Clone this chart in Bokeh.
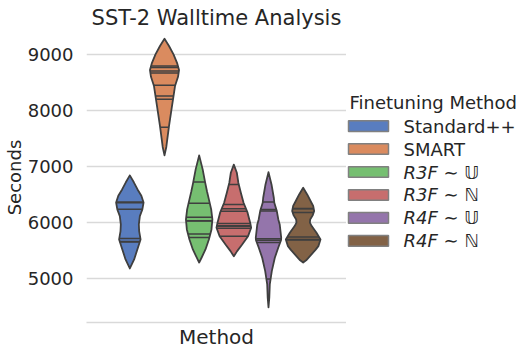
import numpy as np
from bokeh.plotting import figure
from bokeh.layouts import row
from bokeh.models import FixedTicker, Range1d
from bokeh.embed import file_html
from bokeh.resources import INLINE
from bokeh.core.properties import value

# ---------------- data ----------------
methods = ["Standard++", "SMART", "R3F \u223c \U0001D54C", "R3F \u223c \u2115",
           "R4F \u223c \U0001D54C", "R4F \u223c \u2115"]
italic = [False, False, True, True, True, True]
colors = ["#597dbf", "#da8b5f", "#76bf71", "#c76e6e", "#9475ab", "#826246"]

# violin outlines: seconds and half-width density (relative, 1 = widest)
std_y = [5184, 5345, 5523, 5701, 5850, 5969, 6117, 6236, 6360, 6480, 6593, 6720, 6843]
std_d = [0, 4.3, 7.5, 10.7, 9.3, 9.0, 10.0, 12.5, 13.7, 11.5, 7.7, 4.0, 0]
smart_y = [7200, 7350, 7490, 7720, 7960, 8200, 8435, 8600, 8720, 8850, 9000, 9150, 9280]
smart_d = [0, 1.8, 2.8, 4.5, 6.5, 8.5, 10.5, 13.5, 14.5, 12.5, 9.0, 4.5, 0]
r3fu_y = [5290, 5380, 5523, 5701, 5880, 6058, 6237, 6415, 6560, 6713, 6950, 7200]
r3fu_d = [0, 2.5, 6.3, 9.7, 12.3, 13.2, 12.0, 9.7, 7.8, 6.0, 3.5, 0]
r3fn_y = [5400, 5493, 5612, 5760, 5910, 6000, 6178, 6356, 6534, 6713, 6890, 7035]
r3fn_d = [0, 3.3, 8.3, 14.2, 17.3, 16.3, 13.7, 9.7, 7.0, 4.5, 3.0, 0]
r4fu_y = [4490, 4662, 4899, 5137, 5375, 5554, 5690, 5732, 5969, 6058, 6207, 6356, 6445, 6682, 6900]
r4fu_d = [0, 0.8, 1.3, 3.3, 6.3, 9.7, 12.5, 12.7, 11.2, 9.8, 8.3, 5.8, 5.3, 3.0, 0]
r4fn_y = [5290, 5330, 5434, 5520, 5582, 5701, 5821, 5940, 6000, 6058, 6130, 6207, 6300, 6356, 6504, 6623]
r4fn_d = [0, 3.0, 8.3, 12.5, 15.2, 17.3, 13.3, 8.5, 6.7, 7.0, 9.5, 11.0, 10.0, 8.3, 4.0, 0]

# individual runs (inner sticks), seconds
std_runs = [6370, 6355, 6240, 5720, 5665, 5655]
smart_runs = [8795, 8765, 8705, 8670, 8450, 8260, 8200, 7700]
r3fu_runs = [6725, 6345, 6095, 6035, 6030, 5797, 5735]
r3fn_runs = [6680, 6325, 6250, 6205, 5985, 5945, 5935, 5900, 5760]
r4fu_runs = [6370, 6235, 6210, 5715, 5685, 5645, 4995]
r4fn_runs = [6255, 6250, 6180, 5745, 5700, 5690]

yticks = [5000, 6000, 7000, 8000, 9000]

profiles = [(std_y, std_d, std_runs), (smart_y, smart_d, smart_runs),
            (r3fu_y, r3fu_d, r3fu_runs), (r3fn_y, r3fn_d, r3fn_runs),
            (r4fu_y, r4fu_d, r4fu_runs), (r4fn_y, r4fn_d, r4fn_runs)]

TEXT = "#262626"
EDGE = "#3f3f3f"
GRID = "#d9d9d9"
FONT = "DejaVu Sans"

# ---------------- main plot ----------------
p = figure(frame_width=260, frame_height=290,
           x_range=Range1d(-0.5, 0.5), y_range=Range1d(4221, 9390),
           output_backend="svg", toolbar_location=None,
           title="SST-2 Walltime Analysis",
           min_border_left=84, min_border_right=0, min_border_top=0, min_border_bottom=0)
p.outline_line_color = None
p.background_fill_color = "white"
p.title.text_font = FONT
p.title.text_font_size = "21px"
p.title.text_font_style = "normal"
p.title.text_color = TEXT
p.title.align = "center"
p.title.standoff = 6

p.xgrid.visible = False
p.ygrid.grid_line_color = GRID
p.ygrid.grid_line_width = 1.6
p.yaxis.ticker = FixedTicker(ticks=yticks)
p.xaxis.ticker = FixedTicker(ticks=[])
p.yaxis.axis_line_color = None
p.yaxis.major_tick_line_color = None
p.yaxis.minor_tick_line_color = None
p.yaxis.major_tick_out = 0
p.yaxis.major_label_text_font = FONT
p.yaxis.major_label_text_font_size = "18px"
p.yaxis.major_label_text_color = TEXT
p.yaxis.major_label_standoff = 13
p.yaxis.axis_label = "Seconds"
p.yaxis.axis_label_text_font = FONT
p.yaxis.axis_label_text_font_size = "18px"
p.yaxis.axis_label_text_font_style = "normal"
p.yaxis.axis_label_text_color = TEXT
p.yaxis.axis_label_standoff = 0
p.xaxis.axis_line_color = GRID
p.xaxis.axis_line_width = 1.6
p.xaxis.major_tick_line_color = None
p.xaxis.minor_tick_line_color = None
p.xaxis.major_tick_out = 0
p.xaxis.axis_label = "Method"
p.xaxis.axis_label_text_font = FONT
p.xaxis.axis_label_text_font_size = "20px"
p.xaxis.axis_label_text_font_style = "normal"
p.xaxis.axis_label_text_color = TEXT
p.xaxis.axis_label_standoff = 2

n = len(methods)
hue_w = 0.8 / n
half_max = hue_w / 2
dmax = max(max(d) for _, d, _ in profiles)
for i, ((vy, vd, runs), col) in enumerate(zip(profiles, colors)):
    c = -0.4 + hue_w * (i + 0.5)
    vy = np.array(vy, float)
    w = np.array(vd, float) / dmax * half_max
    xs = np.concatenate([c + w, (c - w)[::-1]])
    ys = np.concatenate([vy, vy[::-1]])
    p.patch(xs, ys, fill_color=col, line_color=EDGE, line_width=1.8, line_join="round")
    r = np.array(runs, float)
    rw = np.interp(r, vy, w)
    p.segment(x0=c - rw, y0=r, x1=c + rw, y1=r, line_color=EDGE, line_width=1.5)

H = 340
LW = 176
# ---------------- legend panel ----------------
lg = figure(width=LW, height=H, x_range=Range1d(0, LW), y_range=Range1d(H, 0),
            output_backend="svg", toolbar_location=None, min_border=0,
            x_axis_location=None, y_axis_location=None)
lg.grid.visible = False
lg.outline_line_color = None
lg.text(x=[3], y=[85], text=["Finetuning Method"], text_baseline="middle",
        text_font=value(FONT), text_font_size="18px", text_color=TEXT)
ys_leg = [114 + 28 * k for k in range(n)]
lg.rect(x=[22] * n, y=ys_leg, width=40, height=13, fill_color=colors,
        line_color="#808080", line_width=1.5)
for k in range(n):
    lg.text(x=[57], y=[ys_leg[k]], text=[methods[k]], text_baseline="middle",
            text_font=value(FONT), text_font_size="18px",
            text_font_style="italic" if italic[k] else "normal", text_color=TEXT)

layout = row(p, lg)
open("out.html", "w").write(file_html(layout, INLINE))
